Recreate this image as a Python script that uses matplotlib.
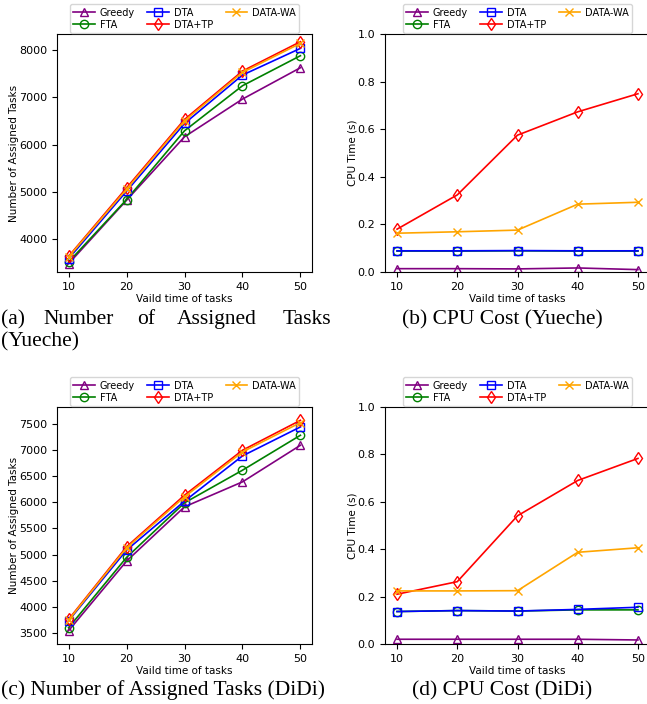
import matplotlib

matplotlib.use("Agg")
import matplotlib.pyplot as plt

W, H = 647, 704

x_vals = [10, 20, 30, 40, 50]
methods = ["Greedy", "FTA", "DTA", "DTA+TP", "DATA-WA"]
colors = ["purple", "green", "blue", "red", "orange"]
markers = ["^", "o", "s", "d", "x"]

# (a) assigned tasks, Yueche
yueche_tasks = {
    "Greedy": [3485, 4825, 6166, 6963, 7626],
    "FTA": [3520, 4840, 6293, 7245, 7880],
    "DTA": [3590, 5016, 6448, 7471, 8035],
    "DTA+TP": [3640, 5087, 6533, 7556, 8176],
    "DATA-WA": [3626, 5058, 6504, 7527, 8141],
}
# (b) CPU time, Yueche
yueche_cpu = {
    "Greedy": [0.014, 0.014, 0.013, 0.017, 0.010],
    "FTA": [0.088, 0.088, 0.089, 0.088, 0.088],
    "DTA": [0.089, 0.089, 0.090, 0.089, 0.089],
    "DTA+TP": [0.180, 0.324, 0.575, 0.673, 0.749],
    "DATA-WA": [0.163, 0.169, 0.176, 0.285, 0.293],
}
# (c) assigned tasks, DiDi
didi_tasks = {
    "Greedy": [3551, 4878, 5913, 6389, 7087],
    "FTA": [3608, 4948, 5989, 6611, 7278],
    "DTA": [3741, 5087, 6021, 6884, 7437],
    "DTA+TP": [3767, 5151, 6135, 6992, 7563],
    "DATA-WA": [3754, 5130, 6103, 6960, 7519],
}
# (d) CPU time, DiDi
didi_cpu = {
    "Greedy": [0.020, 0.020, 0.020, 0.020, 0.017],
    "FTA": [0.137, 0.141, 0.139, 0.144, 0.144],
    "DTA": [0.137, 0.141, 0.139, 0.146, 0.155],
    "DTA+TP": [0.210, 0.263, 0.541, 0.690, 0.783],
    "DATA-WA": [0.224, 0.224, 0.225, 0.387, 0.406],
}


def add_ax(fig, left, right, top, bottom):
    return fig.add_axes(
        [left / W, 1 - bottom / H, (right - left) / W, (bottom - top) / H]
    )


def draw_panel(ax, data, ylabel, ylim, yticks, yfmt):
    for name, c, m in zip(methods, colors, markers):
        ax.plot(
            x_vals,
            data[name],
            color=c,
            marker=m,
            markerfacecolor="none",
            markersize=6,
            linewidth=1.2,
            label=name,
        )
    ax.set_xlim(8, 52)
    ax.set_xticks(x_vals)
    ax.set_ylim(*ylim)
    ax.set_yticks(yticks)
    ax.set_yticklabels([yfmt.format(t) for t in yticks])
    ax.tick_params(labelsize=8)
    ax.set_xlabel("Vaild time of tasks", fontsize=7.5, labelpad=2)
    ax.set_ylabel(ylabel, fontsize=7.5, labelpad=0)
    ax.legend(
        loc="lower center",
        bbox_to_anchor=(0.5, 1.0),
        ncol=3,
        fontsize=7,
        borderaxespad=0.1,
        handlelength=2.2,
        handletextpad=0.5,
        columnspacing=1.3,
        labelspacing=0.2,
        borderpad=0.35,
    )


fig = plt.figure(figsize=(W / 100, H / 100), dpi=100)

ax_a = add_ax(fig, 57, 312, 34, 272)
ax_b = add_ax(fig, 385, 650, 34, 272)
ax_c = add_ax(fig, 57, 312, 407, 644)
ax_d = add_ax(fig, 385, 650, 407, 644)

draw_panel(ax_a, yueche_tasks, "Number of Assigned Tasks", (3309, 8339),
           [4000, 5000, 6000, 7000, 8000], "{:d}")
draw_panel(ax_b, yueche_cpu, "CPU Time (s)", (0, 1.0),
           [0, 0.2, 0.4, 0.6, 0.8, 1.0], "{:.1f}")
draw_panel(ax_c, didi_tasks, "Number of Assigned Tasks", (3297, 7817),
           [3500, 4000, 4500, 5000, 5500, 6000, 6500, 7000, 7500], "{:d}")
draw_panel(ax_d, didi_cpu, "CPU Time (s)", (0, 1.0),
           [0, 0.2, 0.4, 0.6, 0.8, 1.0], "{:.1f}")

cap = dict(fontsize=15.5, family="Liberation Serif", va="baseline")

# (a) caption is justified over two lines
for word, x in [("(a)", 1), ("Number", 43), ("of", 137), ("Assigned", 177), ("Tasks", 283)]:
    fig.text(x / W, 1 - 324 / H, word, ha="left", **cap)
fig.text(1 / W, 1 - 346 / H, "(Yueche)", ha="left", **cap)
fig.text(402 / W, 1 - 324 / H, "(b) CPU Cost (Yueche)", ha="left", **cap)
fig.text(1 / W, 1 - 695 / H, "(c) Number of Assigned Tasks (DiDi)", ha="left", **cap)
fig.text(412 / W, 1 - 695 / H, "(d) CPU Cost (DiDi)", ha="left", **cap)

fig.savefig("out.png", dpi=100)
